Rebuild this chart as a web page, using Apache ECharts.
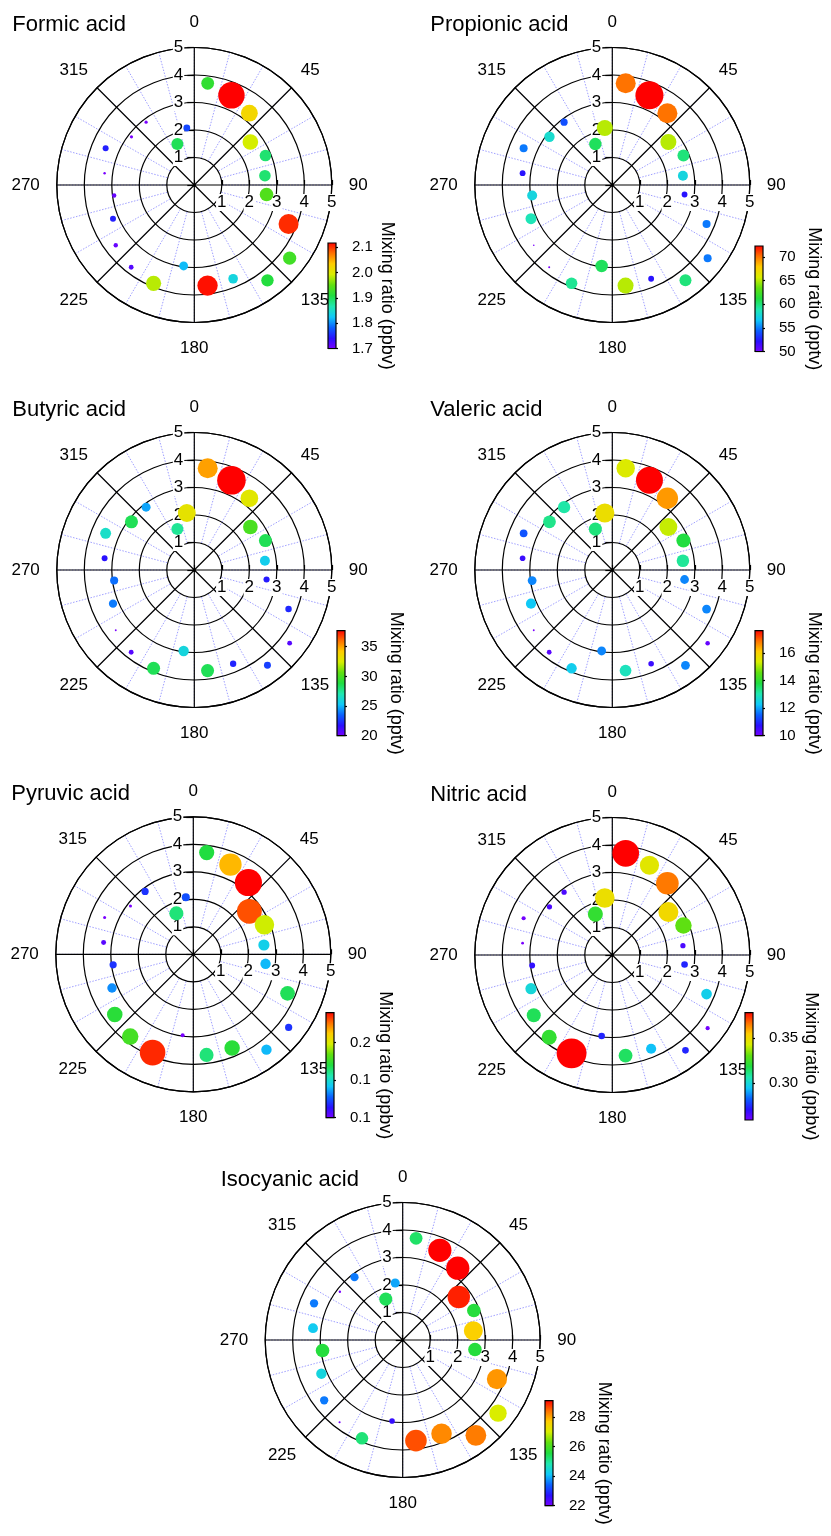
<!DOCTYPE html>
<html>
<head>
<meta charset="utf-8">
<script src="https://cdn.jsdelivr.net/npm/echarts@6/dist/echarts.min.js"></script>
<style>
html,body{margin:0;padding:0;background:#fff;}
#chart{width:831px;height:1536px;}
</style>
</head>
<body>
<div id="chart"></div>
<script>
// ---------------- DATA ----------------
// wind direction bins (degrees, clockwise from north)
const directions = [7.5, 22.5, 37.5, 52.5, 67.5, 82.5, 97.5, 112.5, 127.5, 142.5, 157.5, 172.5,
  187.5, 202.5, 217.5, 232.5, 247.5, 262.5, 277.5, 292.5, 307.5, 322.5, 337.5, 352.5];
// mean wind speed in each bin (radius)
const windSpeed = [3.73, 3.53, 3.29, 2.57, 2.80, 2.59, 2.65, 3.71, 4.37, 4.37, 3.69, 3.69,
  2.97, 3.87, 3.77, 3.60, 3.20, 2.94, 3.29, 3.49, 2.88, 2.88, 1.61, 2.09];

// mixing ratios per direction bin
const formic = [1.92, 2.26, 2.02, 1.99, 1.89, 1.89, 1.94, 2.10, 1.93, 1.91, 1.84, 2.11,
  1.82, 1.98, 1.72, 1.71, 1.75, 1.71, 1.66, 1.75, 1.68, 1.68, 1.90, 1.77];
const propionic = [70, 80, 70, 65, 60, 57.5, 52.3, 55, 55, 60, 52.3, 65,
  60.6, 59.5, 47.5, 47, 58.7, 57.5, 52.3, 55, 58, 54, 60.6, 65];
const butyric = [35, 43, 32.8, 30, 28.5, 25.6, 22, 22.3, 20.8, 22.8, 22.2, 28.5,
  26, 28.5, 20.8, 18, 24, 23.8, 21.8, 26.5, 28.5, 24.7, 27.5, 33];
const valeric = [15.4, 18.6, 16.5, 15.2, 13.8, 13.2, 11.8, 11.8, 10.2, 11.8, 10.6, 12.9,
  11.8, 12.4, 10.3, 9.2, 12.3, 11.8, 10.6, 11.4, 13.3, 13.1, 13.4, 15.7];
const pyruvic = [0.17, 0.215, 0.245, 0.23, 0.197, 0.145, 0.14, 0.167, 0.12, 0.14, 0.172, 0.163,
  0.1, 0.235, 0.178, 0.172, 0.134, 0.12, 0.106, 0.094, 0.094, 0.12, 0.163, 0.125];
const nitric = [0.388, 0.345, 0.365, 0.35, 0.33, 0.266, 0.274, 0.297, 0.26, 0.274, 0.294, 0.315,
  0.274, 0.406, 0.322, 0.316, 0.3, 0.27, 0.252, 0.26, 0.266, 0.266, 0.322, 0.348];
const isocyanic = [25.3, 29.2, 29.2, 28.9, 25.6, 27.6, 25.6, 28.1, 27, 28.3, 28.2, 28.6,
  22.6, 25.2, 21.3, 23.6, 24.4, 25.6, 24.2, 23.6, 21.4, 23.6, 25.4, 23.9];

const speciesNames = ['Formic acid', 'Propionic acid', 'Butyric acid', 'Valeric acid',
  'Pyruvic acid', 'Nitric acid', 'Isocyanic acid'];
const speciesValues = [formic, propionic, butyric, valeric, pyruvic, nitric, isocyanic];
const units = ['ppbv', 'pptv', 'pptv', 'pptv', 'ppbv', 'ppbv', 'pptv'];
// colour scale domain [min, max] for each species
const colorDomains = [[1.7, 2.116], [50, 72.3], [20, 37.7], [10, 17.6], [0.1, 0.24], [0.259, 0.378], [22, 29.1]];
// colour bar ticks and their labels
const colorbarTicks = [[1.7, 1.8, 1.9, 2.0, 2.1], [50, 55, 60, 65, 70], [20, 25, 30, 35], [10, 12, 14, 16],
  [0.1, 0.15, 0.2], [0.30, 0.35], [22, 24, 26, 28]];
const colorbarTickLabels = [['1.7', '1.8', '1.9', '2.0', '2.1'], ['50', '55', '60', '65', '70'], ['20', '25', '30', '35'],
  ['10', '12', '14', '16'], ['0.1', '0.1', '0.2'], ['0.30', '0.35'], ['22', '24', '26', '28']];
// value at which the bubble reaches its reference size
const sizeRefValue = [2.1, 70, 35, 16, 0.2, 0.35, 28];
const cardinalTicks = [0, 90, 180, 270];
const diagonalTicks = [45, 135, 225, 315];
const radiusTicks = [1, 2, 3, 4, 5];

// ---------------- LAYOUT / STYLE ----------------
const panels = [
  {cx: 194.3, cy: 185, barLeft: 328, barTop: 243, barBottom: 348.5},
  {cx: 612.3, cy: 185, barLeft: 755, barTop: 246, barBottom: 351.5},
  {cx: 194.3, cy: 570, barLeft: 337, barTop: 630.7, barBottom: 735.7},
  {cx: 612.3, cy: 570, barLeft: 755, barTop: 630.7, barBottom: 735.7},
  {cx: 193.3, cy: 954.3, barLeft: 326, barTop: 1012.7, barBottom: 1117.7},
  {cx: 612.3, cy: 955, barLeft: 745, barTop: 1012.7, barBottom: 1120},
  {cx: 402.7, cy: 1340, barLeft: 545, barTop: 1400.7, barBottom: 1505.7}
];
const R = 137.5;
const BAR_W = 8;
const FONT = "'Liberation Sans', Arial, sans-serif";
const palette = ['#7a00ff', '#2a10ff', '#0a60ff', '#10c8f8', '#20e8b0', '#20dd40',
  '#60e010', '#d8ee00', '#ffcc00', '#ff7000', '#ff0000'];

const option = {
  backgroundColor: '#fff',
  animation: false,
  textStyle: {fontFamily: FONT},
  title: [], polar: [], angleAxis: [], radiusAxis: [],
  grid: [], xAxis: [], yAxis: [], series: [], visualMap: []
};

panels.forEach((p, i) => {
  const center = [p.cx, p.cy];
  const base = i * 4;
  // polar A: dotted sector lines
  option.polar.push({center, radius: [R / 5, R]});
  option.angleAxis.push({polarIndex: base, type: 'value', min: 0, max: 360, interval: 15, startAngle: 90, clockwise: true,
    axisLine: {show: false}, axisTick: {show: false}, axisLabel: {show: false},
    splitLine: {show: true, lineStyle: {color: '#a0a0ff', width: 1, type: [1.5, 1.5]}}, z: 0});
  option.radiusAxis.push({polarIndex: base, type: 'value', min: 0, max: 5, show: false});
  // polar B: main grid with cardinal labels
  option.polar.push({center, radius: [0, R]});
  option.angleAxis.push({polarIndex: base + 1, type: 'value', min: 0, max: 360, interval: 45, startAngle: 90, clockwise: true,
    axisLine: {show: true, lineStyle: {color: '#000', width: 1.2}},
    axisTick: {show: false},
    axisLabel: {show: true, margin: 17, fontSize: 17, color: '#000', fontFamily: FONT,
      formatter: v => cardinalTicks.indexOf(v) >= 0 ? String(v) : ''},
    splitLine: {show: true, lineStyle: {color: '#000', width: 1.2}}, z: 1});
  option.radiusAxis.push({polarIndex: base + 1, type: 'value', min: 0, max: 5, interval: 1,
    axisLine: {show: false}, axisTick: {show: false}, axisLabel: {show: false},
    splitLine: {show: true, lineStyle: {color: '#000', width: 1.2}}, z: 1});
  // polar C: vertical radius labels + diagonal angle labels
  option.polar.push({center, radius: [0, R]});
  option.angleAxis.push({polarIndex: base + 2, type: 'value', min: 0, max: 360, interval: 45, startAngle: 90, clockwise: true,
    axisLine: {show: false}, axisTick: {show: false}, splitLine: {show: false},
    axisLabel: {show: true, margin: 13, fontSize: 17, color: '#000', fontFamily: FONT,
      formatter: v => diagonalTicks.indexOf(v) >= 0 ? String(v) : ''}, z: 2});
  option.radiusAxis.push({polarIndex: base + 2, type: 'value', min: 0, max: 5, interval: 1,
    axisLine: {show: false}, axisTick: {show: true, length: 7, lineStyle: {color: '#000', width: 1.2}},
    axisLabel: {show: true, margin: 10, fontSize: 17, color: '#000', fontFamily: FONT, backgroundColor: '#fff', padding: [0, 1],
      formatter: v => radiusTicks.indexOf(v) >= 0 ? String(v) : ''},
    splitLine: {show: false}, z: 2});
  // polar D: horizontal radius labels
  option.polar.push({center, radius: [0, R]});
  option.angleAxis.push({polarIndex: base + 3, type: 'value', min: 0, max: 360, startAngle: 0, show: false});
  option.radiusAxis.push({polarIndex: base + 3, type: 'value', min: 0, max: 5, interval: 1,
    axisLine: {show: false}, axisTick: {show: true, inside: true, length: 5, lineStyle: {color: '#000', width: 1.2}},
    axisLabel: {show: true, margin: -9, verticalAlign: 'top', fontSize: 17, color: '#000', fontFamily: FONT,
      backgroundColor: '#fff', padding: [0, 1],
      formatter: v => radiusTicks.indexOf(v) >= 0 ? String(v) : ''},
    splitLine: {show: false}, z: 2});

  // title
  option.title.push({text: speciesNames[i], left: p.cx - 182, top: p.cy - 171, padding: 0,
    textStyle: {fontSize: 22, fontWeight: 'normal', color: '#000', fontFamily: FONT}});

  // bubbles
  const vals = speciesValues[i];
  const cmin = colorDomains[i][0];
  const ref = sizeRefValue[i];
  const seriesIndex = option.series.length;
  option.series.push({
    type: 'scatter', coordinateSystem: 'polar', polarIndex: base + 1, z: 5,
    data: windSpeed.map((r, k) => [r, directions[k], vals[k]]),
    symbol: 'circle',
    symbolSize: d => Math.max(1.5, 4 + 16 * (d[2] - cmin) / (ref - cmin)),
    itemStyle: {opacity: 1}
  });
  option.visualMap.push({type: 'continuous', show: false, seriesIndex, dimension: 2,
    min: colorDomains[i][0], max: colorDomains[i][1], inRange: {color: palette}});

  // colour bar
  option.grid.push({left: p.barLeft, top: p.barTop, width: BAR_W, height: p.barBottom - p.barTop});
  option.xAxis.push({gridIndex: i, type: 'value', min: 0, max: 1, show: false});
  const ticks = colorbarTicks[i];
  const labels = colorbarTickLabels[i];
  option.yAxis.push({gridIndex: i, type: 'value', position: 'right', min: colorDomains[i][0], max: colorDomains[i][1],
    axisLine: {show: false},
    axisTick: {show: true, length: 10, customValues: ticks, lineStyle: {color: '#000', width: 1.2}},
    axisLabel: {show: true, customValues: ticks, margin: 16, fontSize: 15, color: '#000', fontFamily: FONT,
      formatter: v => { let best = 0; ticks.forEach((t, j) => { if (Math.abs(t - v) < Math.abs(ticks[best] - v)) best = j; }); return labels[best]; }},
    splitLine: {show: false},
    name: 'Mixing ratio (' + units[i] + ')', nameLocation: 'middle', nameRotate: -90, nameGap: 42,
    nameTextStyle: {fontSize: 18, color: '#000', fontFamily: FONT}
  });
  const stops = palette.map((c, k) => ({offset: k / (palette.length - 1), color: c}));
  option.series.push({
    type: 'custom', xAxisIndex: i, yAxisIndex: i, silent: true,
    data: [[0, colorDomains[i][0], 1, colorDomains[i][1]]],
    renderItem: (params, api) => {
      const a = api.coord([api.value(0), api.value(1)]);
      const b = api.coord([api.value(2), api.value(3)]);
      return {type: 'rect', shape: {x: a[0], y: b[1], width: b[0] - a[0], height: a[1] - b[1]},
        style: {fill: new echarts.graphic.LinearGradient(0, 1, 0, 0, stops), stroke: '#000', lineWidth: 1.2}};
    }
  });
});

const chart = echarts.init(document.getElementById('chart'), null, {renderer: 'canvas'});
chart.setOption(option);
</script>
</body>
</html>
